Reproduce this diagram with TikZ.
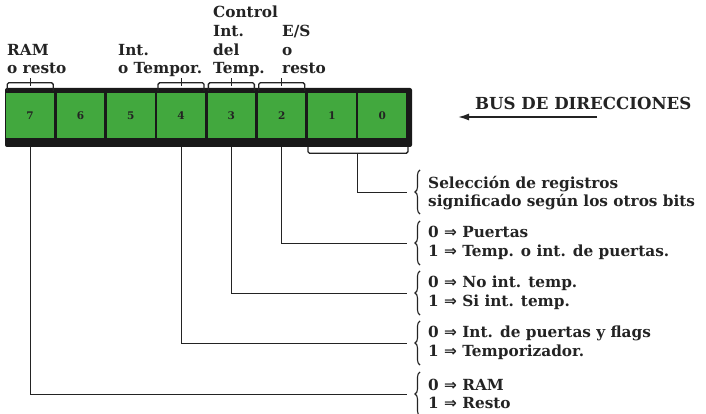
\documentclass[tikz,border=0pt]{standalone}
\usepackage{fontspec}
\setmainfont{DejaVu Serif}
\newfontfamily\arrfont{DejaVu Sans}
\usetikzlibrary{decorations.pathreplacing,arrows.meta}
\definecolor{regGreen}{RGB}{66,168,62}
\definecolor{inkGray}{RGB}{35,35,35}
\newcommand{\imp}{{\arrfont\bfseries ⇒}}
\begin{document}
\begin{tikzpicture}[x=1pt,y=-1pt,
  lbl/.style={font=\bfseries\fontsize{15.3}{18.7}\selectfont, align=left, inner sep=0pt, text=inkGray},
  cell/.style={fill=regGreen, minimum width=47.6pt, minimum height=45pt, inner sep=0pt,
               font=\bfseries\fontsize{10.5}{12}\selectfont, text=inkGray},
  wire/.style={draw=inkGray, line width=1pt},
  tab/.style={draw=inkGray, line width=1.3pt, rounded corners=1.5pt},
  brk/.style={draw=inkGray, decorate, decoration={brace, amplitude=5pt}, line width=1.1pt}
]
\useasboundingbox (0,0) rectangle (706,414);

% register body
\fill[black!90, rounded corners=2pt] (5,88) rectangle (412,147);
\foreach \b/\x in {7/30.15,6/80.45,5/130.75,4/181.05,3/231.35,2/281.65,1/331.95,0/382.25}
  \node[cell] (c\b) at (\x,115.5) {\b};

% tabs above bits 7,4,3,2 with ticks
\foreach \b in {7,4,3,2}{
  \draw[tab] ([xshift=-23pt,yshift=2pt]c\b.north) -- ++(0,-8) -- ++(46,0) -- ++(0,8);
  \draw[wire] ([yshift=7pt]c\b.north) -- ++(0,-8);
}

% top labels (anchor at baseline of last line)
\node[lbl, anchor=base west] (l7) at (7,74) {RAM\\o resto};
\node[lbl, anchor=base west] (l4) at (118,74) {Int.\\o Tempor.};
\node[lbl, anchor=base west] (l3) at (213,74) {Control\\Int.\\del\\Temp.};
\node[lbl, anchor=base west] (l2) at (282,74) {E/S\\o\\resto};

% bus
\node[font=\bfseries\fontsize{16.6}{20}\selectfont, text=inkGray, inner sep=0pt, anchor=base west] (bus) at (475,110) {BUS DE DIRECCIONES};
\coordinate (busStart) at (597,117);
\coordinate (busTip) at (458,117);
\draw[inkGray, line width=1.6pt, -{Latex[length=11pt,width=7pt]}] (busStart) -- (busTip);

% right groups
\foreach \i/\y in {1/192,2/243,3/293,4/343,5/394}{
  \coordinate (e\i) at (407,\y);
  \draw[brk] (420,\y+22) -- (420,\y-22);
}
\node[lbl, anchor=west] (g1) at (428,193) {Selección de registros\\significado según los otros bits};
\node[lbl, anchor=west] (g2) at (428,243) {0 \imp{} Puertas\\1 \imp{} Temp. o int. de puertas.};
\node[lbl, anchor=west] (g3) at (428,293) {0 \imp{} No int. temp.\\1 \imp{} Si int. temp.};
\node[lbl, anchor=west] (g4) at (428,343) {0 \imp{} Int. de puertas y flags\\1 \imp{} Temporizador.};
\node[lbl, anchor=west] (g5) at (428,394) {0 \imp{} RAM\\1 \imp{} Resto};

% bracket under bits 1,0
\draw[tab] ([xshift=-24pt,yshift=-9pt]c1.south) -- ++(0,6) -- ++(100,0) -- ++(0,-6);
\coordinate (brk) at (357.5,153);
\draw[wire] (brk) |- (e1);

% connectors
\draw[wire] ([yshift=-9pt]c2.south) |- (e2);
\draw[wire] ([yshift=-9pt]c3.south) |- (e3);
\draw[wire] ([yshift=-9pt]c4.south) |- (e4);
\draw[wire] ([yshift=-9pt]c7.south) |- (e5);
\end{tikzpicture}
\end{document}
